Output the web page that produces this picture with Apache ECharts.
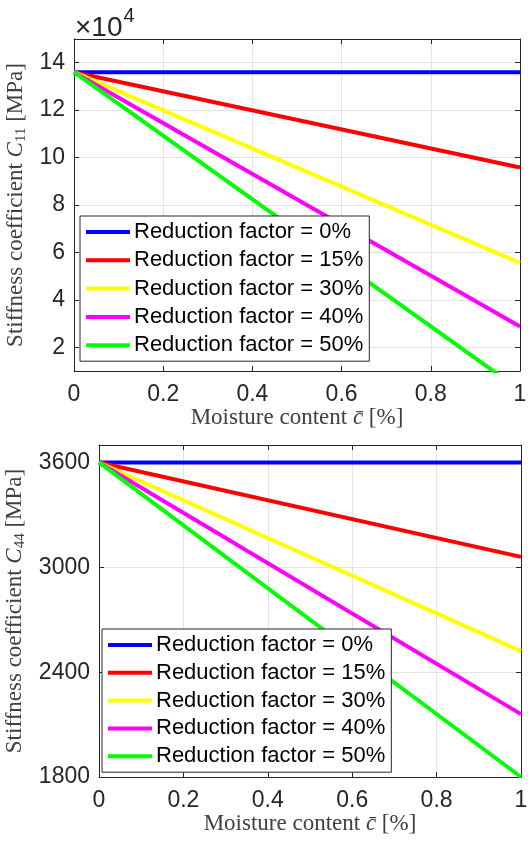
<!DOCTYPE html>
<html><head><meta charset="utf-8">
<script src="https://cdn.jsdelivr.net/npm/echarts@6/dist/echarts.min.js"></script>
<style>html,body{margin:0;padding:0;background:#fff}#c{width:528px;height:843px}</style>
</head><body><div id="c"></div>
<script>
// ---- data ----
const moisture = [0, 1];
const seriesNames = ['Reduction factor = 0%','Reduction factor = 15%','Reduction factor = 30%','Reduction factor = 40%','Reduction factor = 50%'];
const colors = ['#0000ff','#ff0000','#ffff00','#ff00ff','#00ff00'];
// C11 in units of 1e4 MPa
const c11Start = [13.6, 13.6, 13.6, 13.6, 13.6];
const c11End = [13.6, 9.58, 5.56, 2.88, 0.2];
// C44 in MPa
const c44Start = [3600, 3600, 3600, 3600, 3600];
const c44End = [3600, 3060, 2520, 2160, 1800];
const c11TickStep = 2;
const c44TickStep = 600;

const SANS = "'Liberation Sans', Arial, sans-serif";
const SERIF = "'Liberation Serif', 'DejaVu Serif', serif";
const AX = '#262626';
const GRIDC = '#e3e3e3';
const TITLEC = '#404040';

function pair(a, b) { return [[moisture[0], a], [moisture[1], b]]; }

function baseX(gi, show) {
  return {
    type: 'value', gridIndex: gi, min: 0, max: 1, interval: 0.2,
    position: show ? 'bottom' : 'top',
    axisLine: { show: true, onZero: false, lineStyle: { color: AX, width: 1 } },
    axisTick: { show: true, inside: true, length: 5, lineStyle: { color: AX } },
    axisLabel: { show: show, color: AX, fontFamily: SANS, fontSize: 23, margin: 12 },
    splitLine: { show: show, lineStyle: { color: GRIDC, width: 1 } },
    name: show ? 'Moisture content {i|c\u0304} [%]' : '',
    nameLocation: 'middle', nameGap: 34,
    nameTextStyle: { color: TITLEC, fontFamily: SERIF, fontSize: 23,
      rich: { i: { fontFamily: SERIF, fontStyle: 'italic', fontSize: 23, color: TITLEC } } }
  };
}
function baseY(gi, show, step, extra) {
  return Object.assign({
    type: 'value', gridIndex: gi,
    position: show ? 'left' : 'right',
    axisLine: { show: true, onZero: false, lineStyle: { color: AX, width: 1 } },
    axisTick: { show: true, inside: true, length: 5, lineStyle: { color: AX } },
    axisLabel: { show: show, color: AX, fontFamily: SANS, fontSize: 23, margin: 9,
      formatter: v => (Math.abs(v / step - Math.round(v / step)) < 1e-6 ? String(v) : '') },
    splitLine: { show: show, lineStyle: { color: GRIDC, width: 1 } },
    nameLocation: 'middle',
    nameTextStyle: { color: TITLEC, fontFamily: SERIF, fontSize: 23,
      rich: {
        i: { fontFamily: SERIF, fontStyle: 'italic', fontSize: 23, color: TITLEC },
        sub: { fontFamily: SERIF, fontSize: 15, color: TITLEC, lineHeight: 15, padding: [10, 0, 0, 0] }
      } }
  }, extra);
}

const yTop = { min: 1, max: 15, splitNumber: 7 };
const yBot = { min: 1800, max: 3700, interval: c44TickStep };

const series = [];
seriesNames.forEach((n, i) => {
  series.push({ name: n, type: 'line', xAxisIndex: 0, yAxisIndex: 0, data: pair(c11Start[i], c11End[i]),
    symbol: 'none', clip: true, lineStyle: { color: colors[i], width: 4 }, itemStyle: { color: colors[i] }, z: 3 });
});
seriesNames.forEach((n, i) => {
  series.push({ name: n, type: 'line', xAxisIndex: 2, yAxisIndex: 2, data: pair(c44Start[i], c44End[i]),
    symbol: 'none', clip: true, lineStyle: { color: colors[i], width: 4 }, itemStyle: { color: colors[i] }, z: 3 });
});

function legend(left, top, gap) {
  return {
    left: left, top: top, orient: 'vertical',
    data: seriesNames,
    itemWidth: 44, itemHeight: 4, itemGap: gap,
    padding: [5, 6, 5, 6],
    backgroundColor: '#ffffff', borderColor: AX, borderWidth: 1, borderRadius: 0,
    textStyle: { fontFamily: SANS, fontSize: 22, color: '#000', lineHeight: 22, padding: [0, 0, 0, -1] },
    selectedMode: false, icon: 'rect',
    itemStyle: { borderWidth: 0 },
    z: 10
  };
}

const chart = echarts.init(document.getElementById('c'), null, { renderer: 'canvas' });
chart.setOption({
  animation: false,
  backgroundColor: '#ffffff',
  grid: [
    { left: 74, right: 8, top: 39, height: 332, show: false, containLabel: false, outerBoundsMode: 'none' },
    { left: 99, right: 7, top: 445, height: 332, show: false, containLabel: false, outerBoundsMode: 'none' }
  ],
  xAxis: [baseX(0, true), baseX(0, false), baseX(1, true), baseX(1, false)],
  yAxis: [
    baseY(0, true, c11TickStep, Object.assign({ name: 'Stiffness coefficient {i|C}{sub|11} [MPa]', nameGap: 39 }, yTop)),
    baseY(0, false, c11TickStep, Object.assign({}, yTop)),
    baseY(1, true, c44TickStep, Object.assign({ name: 'Stiffness coefficient {i|C}{sub|44} [MPa]', nameGap: 65 }, yBot)),
    baseY(1, false, c44TickStep, Object.assign({}, yBot))
  ],
  legend: [legend(80, 216, 6.3), legend(102, 629, 5.8)],
  graphic: [{
    type: 'text', left: 75, top: 4, z: 20,
    style: { text: '{a|\u00d710}{b|4}', rich: {
      a: { fontFamily: SANS, fontSize: 28, fill: AX, color: AX, lineHeight: 30, padding: [10, 0, 0, 0] },
      b: { fontFamily: SANS, fontSize: 20, fill: AX, color: AX, lineHeight: 20, padding: [0, 0, 14, 1] }
    } }
  }],
  series: series
});
</script>
</body></html>
